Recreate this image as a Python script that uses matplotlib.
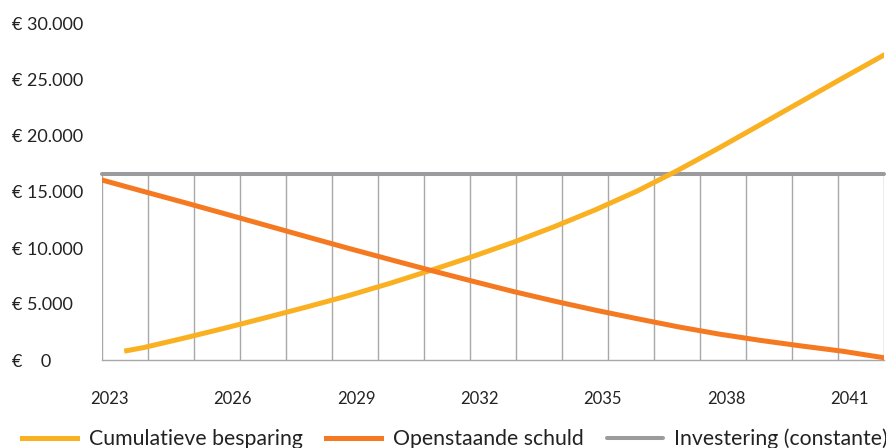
import numpy as np
import matplotlib
matplotlib.use('Agg')
import matplotlib.pyplot as plt
from matplotlib.transforms import ScaledTranslation

plt.rcParams['font.family'] = ['Lato', 'DejaVu Sans']

# gegevens
jaren = np.arange(2023, 2043)
schuld = [16070, 15060, 14060, 13040, 12010, 10980, 9960, 8970, 7990, 7040,
          6110, 5250, 4440, 3690, 2960, 2310, 1750, 1250, 780, 200]
besparing_jaren = [2023.6] + list(range(2024, 2043))
besparing = [830, 1100, 1960, 2860, 3800, 4760, 5760, 6850, 8020, 9230,
             10520, 11920, 13430, 15080, 16950, 18950, 21020, 23100, 25180, 27230]
investering = 16580
y_ticks = [0, 5000, 10000, 15000, 20000, 25000, 30000]
y_labels = ['€    0', '€ 5.000', '€ 10.000', '€ 15.000', '€ 20.000', '€ 25.000', '€ 30.000']
x_ticks = [2023, 2026, 2029, 2032, 2035, 2038, 2041]

geel = '#F9B122'
oranje = '#F47920'
grijs = '#9B9B9D'

fig = plt.figure(figsize=(8.87, 4.48), dpi=100)
ax = fig.add_axes([102 / 887, 88 / 448, 782 / 887, 336 / 448])
ax.set_xlim(2023, 2042)
ax.set_ylim(0, 30000)

# verticale lijnen tot aan de investering
ax.vlines(np.linspace(2023, 2042, 18), 0, investering, color='#A8A8A8', lw=1.0, zorder=1)

l3 = ax.axhline(investering, color=grijs, lw=2.9, solid_capstyle='round', clip_on=False,
                zorder=2)
l1, = ax.plot(besparing_jaren, besparing, color=geel, lw=3.6, zorder=3)
l2, = ax.plot(jaren, schuld, color=oranje, lw=3.6, zorder=4)

for s in ['top', 'right', 'left']:
    ax.spines[s].set_visible(False)
ax.spines['bottom'].set_color('#A8A8A8')
ax.spines['bottom'].set_linewidth(1.0)

ax.set_yticks(y_ticks)
ax.set_yticklabels(y_labels, fontsize=13, color='#222222', ha='left')
ax.tick_params(axis='y', length=0, pad=65)
ax.set_xticks(x_ticks)
ax.set_xticklabels([str(j) for j in x_ticks], fontsize=12, color='#222222')
ax.tick_params(axis='x', length=0, pad=22)
for lab in ax.get_xticklabels():
    lab.set_transform(lab.get_transform() + ScaledTranslation(7 / 100, 0, fig.dpi_scale_trans))

fig.legend([l1, l2, l3], ['Cumulatieve besparing', 'Openstaande schuld', 'Investering (constante)'],
           loc='center', bbox_to_anchor=(455 / 887, 9 / 448), ncol=3, frameon=False,
           fontsize=15.3, handlelength=2.6, handletextpad=0.55, columnspacing=1.1,
           labelcolor='#222222')

fig.savefig('out.png', dpi=100)
